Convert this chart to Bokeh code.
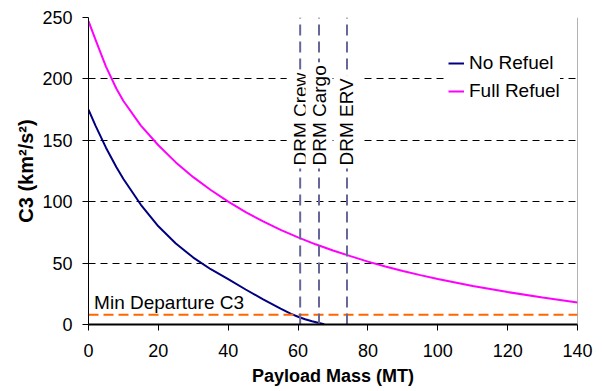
import numpy as np
from bokeh.plotting import figure
from bokeh.models import Range1d, Legend, LegendItem, Span, FixedTicker
from bokeh.core.properties import value
from bokeh.embed import file_html
from bokeh.resources import INLINE

# ---- data ----
no_refuel_mass = [0, 2, 5, 8, 10, 15, 20, 25, 30, 35, 40, 45, 50, 55, 58, 60, 62, 64, 66, 67.5]
no_refuel_c3 = [175, 162, 144, 128, 118.5, 97.5, 80, 66, 54.5, 45, 37, 28.5, 20.5, 13, 8.7, 6.3, 4.3, 2.6, 1.3, 0.2]

full_refuel_mass = [0, 2, 5, 8, 10, 15, 20, 25, 30, 35, 40, 45, 50, 55, 60, 65, 70, 75, 80, 85, 90, 95, 100, 110, 120, 130, 140]
full_refuel_c3 = [247, 232, 210, 192, 182, 162, 146, 132, 120, 109.5, 100, 91.5, 84, 77, 71, 65.3, 60.3, 55.7, 51.2, 47.3, 43.6, 40.2, 37, 31.3, 26.4, 21.9, 17.9]

drm_labels = ["DRM Crew", "DRM Cargo", "DRM ERV"]
drm_mass = [60.6, 66.0, 74.0]
drm_label_c3 = 127

min_departure_label = "Min Departure C3"
min_departure_c3 = 8

x_ticks = [0, 20, 40, 60, 80, 100, 120, 140]
y_ticks = [0, 50, 100, 150, 200, 250]

FONT = "Liberation Sans"

p = figure(width=602, height=391, frame_width=489, frame_height=307,
           output_backend="svg", toolbar_location=None,
           x_range=Range1d(x_ticks[0], x_ticks[-1]), y_range=Range1d(y_ticks[0], y_ticks[-1]),
           min_border_left=88, min_border_right=25, min_border_top=17, min_border_bottom=67)
p.outline_line_color = None
p.background_fill_color = "white"

# axes
for ax in (p.xaxis[0], p.yaxis[0]):
    ax.major_label_text_font = FONT
    ax.major_label_text_font_size = "18px"
    ax.major_label_text_color = "black"
    ax.axis_label_text_font = FONT
    ax.axis_label_text_font_size = "18px"
    ax.axis_label_text_font_style = "bold"
    ax.axis_label_text_color = "black"
    ax.major_tick_in = 0
    ax.major_tick_out = 6
    ax.minor_tick_line_color = None
    ax.axis_line_color = "black"
    ax.major_tick_line_color = "black"

p.xaxis.ticker = FixedTicker(ticks=x_ticks)
p.yaxis.ticker = FixedTicker(ticks=y_ticks)
p.xaxis.axis_label = "Payload Mass (MT)"
p.yaxis.axis_label = "C3 (km²/s²)"
p.yaxis.axis_label_text_font_size = "20px"
p.xaxis.axis_line_width = 2
p.yaxis.axis_line_width = 1
p.xaxis.major_label_standoff = 13
p.yaxis.major_label_standoff = 10
p.xaxis.axis_label_standoff = 6
p.yaxis.axis_label_standoff = 2

p.xgrid.visible = False
p.ygrid.ticker = FixedTicker(ticks=y_ticks[1:])
p.ygrid.grid_line_color = "black"
p.ygrid.grid_line_dash = "7 5"
p.ygrid.grid_line_width = 1

# right frame edge
p.add_layout(Span(location=x_ticks[-1], dimension="height", line_color="#666666", line_width=1))

# curves
r_no = p.line(no_refuel_mass, no_refuel_c3, line_color="#000080", line_width=2)
r_full = p.line(full_refuel_mass, full_refuel_c3, line_color="#ff00ff", line_width=2)

# min departure line
p.line([x_ticks[0], x_ticks[-1]], [min_departure_c3, min_departure_c3],
       line_color="#ff6600", line_width=2, line_dash="10 5")
p.text(x=[1.6], y=[18], text=[min_departure_label], text_font=value(FONT),
       text_font_size="19px", text_color="black", text_align="left", text_baseline="alphabetic")

# DRM vertical lines
p.segment(x0=drm_mass, y0=[y_ticks[0]] * 3, x1=drm_mass, y1=[y_ticks[-1]] * 3,
          line_color="#666699", line_width=2, line_dash="11 6")
p.text(x=drm_mass, y=[drm_label_c3] * 3, text=drm_labels, angle=np.pi / 2,
       text_font=value(FONT), text_font_size="19px", text_color="black",
       text_align="left", text_baseline="middle",
       background_fill_color="white", padding=3)

legend = Legend(items=[LegendItem(label="No Refuel", renderers=[r_no]),
                       LegendItem(label="Full Refuel", renderers=[r_full])],
                location=(360, 222), label_text_font=FONT, label_text_font_size="19px",
                label_text_color="black",
                glyph_width=16, glyph_height=20, label_height=20, label_standoff=5,
                spacing=6, padding=4, margin=0, border_line_color=None,
                background_fill_color="white", background_fill_alpha=1.0)
p.add_layout(legend)

open("out.html", "w").write(file_html(p, INLINE))
